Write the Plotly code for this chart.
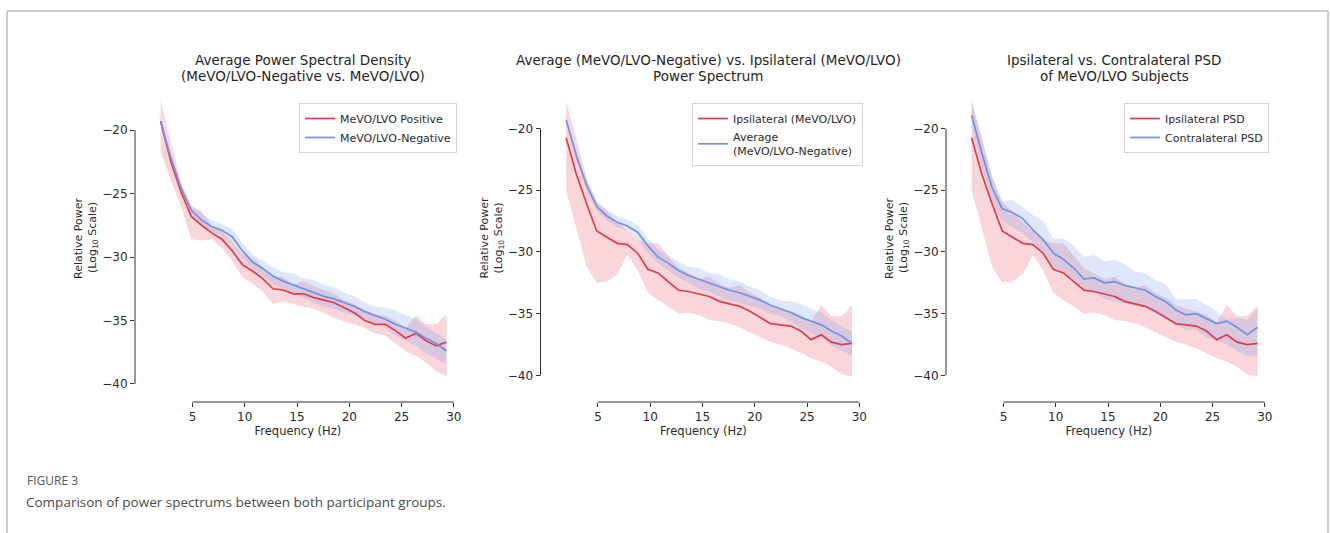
import plotly.graph_objects as go

# ---------------- data ----------------
freqs = [1.95, 2.93, 3.91, 4.88, 5.86, 6.84, 7.81, 8.79, 9.77, 10.74,
         11.72, 12.70, 13.67, 14.65, 15.63, 16.60, 17.58, 18.55, 19.53, 20.51,
         21.48, 22.46, 23.44, 24.41, 25.39, 26.37, 27.34, 28.32, 29.30]

# Panel 1 - MeVO/LVO Positive (mean, upper, lower)
pos_mean = [-19.3, -22.5, -24.9, -26.8, -27.5, -28.1, -28.6, -29.5, -30.6, -31.1,
            -31.7, -32.5, -32.6, -32.9, -32.9, -33.2, -33.4, -33.6, -34.0, -34.4,
            -35.0, -35.3, -35.3, -35.8, -36.4, -36.0, -36.6, -37.0, -36.7]
pos_up = [-17.7, -21.0, -24.2, -26.0, -26.4, -27.6, -28.0, -28.8, -29.8, -30.0,
          -30.8, -31.5, -31.6, -32.2, -31.9, -32.3, -32.6, -32.9, -33.4, -33.7,
          -34.2, -34.5, -34.6, -35.0, -35.6, -34.6, -35.3, -35.3, -34.5]
pos_lo = [-21.7, -24.0, -26.0, -28.6, -28.7, -28.6, -29.3, -30.3, -31.6, -32.1,
          -32.7, -33.7, -33.5, -33.7, -33.9, -34.1, -34.4, -34.8, -35.1, -35.3,
          -35.6, -36.0, -36.2, -36.8, -37.4, -37.8, -38.3, -39.0, -39.4]

# MeVO/LVO-Negative average (mean, upper, lower)
neg_mean = [-19.3, -22.2, -24.6, -26.3, -27.1, -27.6, -27.9, -28.4, -29.5, -30.4,
            -30.9, -31.5, -31.9, -32.2, -32.5, -32.8, -33.1, -33.3, -33.6, -33.9,
            -34.3, -34.6, -34.9, -35.3, -35.6, -35.9, -36.4, -36.8, -37.4]
neg_up = [-19.0, -21.8, -24.2, -25.9, -26.6, -27.1, -27.4, -27.8, -28.9, -29.8,
          -30.3, -30.8, -31.2, -31.3, -31.7, -31.8, -32.2, -32.4, -32.8, -33.1,
          -33.6, -33.9, -34.0, -34.2, -34.6, -34.9, -35.5, -36.0, -36.5]
neg_lo = [-19.6, -22.6, -25.0, -26.7, -27.5, -28.0, -28.3, -29.0, -30.1, -30.9,
          -31.5, -32.1, -32.5, -33.0, -33.2, -33.6, -33.9, -34.1, -34.4, -34.6,
          -35.0, -35.2, -35.6, -36.2, -36.6, -37.0, -37.6, -38.0, -38.4]

# Ipsilateral (MeVO/LVO) (mean, upper, lower)
ipsi_mean = [-20.75, -23.7, -26.1, -28.3, -28.8, -29.3, -29.4, -30.1, -31.4, -31.7,
             -32.4, -33.1, -33.2, -33.4, -33.6, -34.0, -34.2, -34.4, -34.8, -35.3,
             -35.8, -35.9, -36.0, -36.4, -37.1, -36.7, -37.3, -37.5, -37.4]
ipsi_up = [-17.8, -21.0, -24.0, -26.0, -26.7, -27.6, -28.3, -29.0, -29.3, -29.3,
           -30.3, -31.3, -31.7, -32.2, -32.0, -32.6, -32.9, -32.7, -33.3, -33.7,
           -34.3, -34.6, -34.8, -35.1, -35.7, -34.3, -35.2, -35.2, -34.3]
ipsi_lo = [-25.0, -28.0, -31.2, -32.5, -32.4, -31.8, -30.2, -31.5, -33.3, -33.9,
           -34.4, -35.0, -34.9, -35.1, -35.5, -35.6, -35.8, -36.1, -36.5, -36.9,
           -37.3, -37.5, -37.8, -38.2, -38.6, -38.9, -39.3, -39.9, -40.1]

# Contralateral PSD (mean, upper, lower)
contra_mean = [-18.9, -22.0, -24.8, -26.5, -26.8, -27.3, -28.2, -29.0, -30.1, -30.6,
               -31.3, -32.2, -32.1, -32.5, -32.4, -32.7, -32.9, -33.1, -33.6, -34.0,
               -34.7, -35.1, -35.0, -35.4, -35.8, -35.6, -36.1, -36.7, -36.1]
contra_up = [-17.8, -20.9, -23.8, -25.9, -25.8, -26.4, -27.0, -27.5, -28.9, -28.9,
             -29.5, -30.4, -30.2, -30.8, -30.6, -31.0, -31.6, -31.7, -32.3, -32.6,
             -33.8, -33.8, -33.8, -34.3, -34.8, -35.5, -35.3, -35.5, -34.6]
contra_lo = [-19.8, -23.1, -25.9, -27.5, -28.0, -28.5, -29.2, -30.0, -31.1, -31.8,
             -32.4, -33.2, -33.3, -33.8, -34.0, -34.2, -34.4, -34.5, -35.0, -35.4,
             -35.9, -36.3, -36.3, -36.9, -37.2, -37.5, -38.0, -38.4, -38.4]

x_ticks = [5, 10, 15, 20, 25, 30]
y_ticks = [-20, -25, -30, -35, -40]

title_lines = [["Average Power Spectral Density", "(MeVO/LVO-Negative vs. MeVO/LVO)"],
               ["Average (MeVO/LVO-Negative) vs. Ipsilateral (MeVO/LVO)", "Power Spectrum"],
               ["Ipsilateral vs. Contralateral PSD", "of MeVO/LVO Subjects"]]
x_title = "Frequency (Hz)"
y_title_lines = ["Relative Power", "(Log<sub>10</sub> Scale)"]

panels = [
    [("MeVO/LVO Positive", pos_mean, pos_up, pos_lo, "red"),
     ("MeVO/LVO-Negative", neg_mean, neg_up, neg_lo, "blue")],
    [("Ipsilateral (MeVO/LVO)", ipsi_mean, ipsi_up, ipsi_lo, "red"),
     ("Average<br>(MeVO/LVO-Negative)", neg_mean, neg_up, neg_lo, "blue")],
    [("Ipsilateral PSD", ipsi_mean, ipsi_up, ipsi_lo, "red"),
     ("Contralateral PSD", contra_mean, contra_up, contra_lo, "blue")],
]

# ---------------- style ----------------
W, H = 1330, 533
FONT = "DejaVu Sans"
LINE_COL = {"red": "#DE3D50", "blue": "#6F93E8"}
FILL_COL = {"red": "rgba(236,80,98,0.24)", "blue": "rgba(110,150,235,0.22)"}
AX_COL = "#333333"
TXT_COL = "#2b2b2b"

panel_left_px = [135, 540.5, 946]
panel_w_px = 325.8
top_px, bot_px = 88, 402
x_range = [-0.50, 30.67]
y_ranges = [[-41.42, -16.69], [-42.15, -16.72], [-42.15, -16.72]]
legend_right_px = [457, 863, 1269]
legend_top_px = [103, 103, 103]
title_line_px = [60, 76]
ylab_line_px = [-57, -42]

fig = go.Figure()

for i, series in enumerate(panels):
    ax = "" if i == 0 else str(i + 1)
    xa, ya = "x" + ax, "y" + ax
    leg = "legend" if i == 0 else "legend" + str(i + 1)
    # bands first
    for name, m, up, lo, c in series:
        fig.add_trace(go.Scatter(
            x=freqs + freqs[::-1], y=up + lo[::-1], fill="toself",
            fillcolor=FILL_COL[c], line=dict(width=0), mode="lines",
            hoverinfo="skip", showlegend=False, xaxis=xa, yaxis=ya))
    for name, m, up, lo, c in series:
        fig.add_trace(go.Scatter(
            x=freqs, y=m, mode="lines", name=name,
            line=dict(color=LINE_COL[c], width=1.7),
            xaxis=xa, yaxis=ya, legend=leg))

    x0 = panel_left_px[i] / W
    x1 = (panel_left_px[i] + panel_w_px) / W
    axis_common = dict(showgrid=False, zeroline=False, showline=False,
                       ticks="outside", ticklen=4, tickwidth=1, tickcolor=AX_COL,
                       tickfont=dict(family=FONT, size=12, color=TXT_COL))
    fig.update_layout(**{
        "xaxis" + ax: dict(domain=[x0, x1], range=x_range, tickvals=x_ticks,
                           anchor=ya,
                           title=dict(text=x_title, standoff=3,
                                      font=dict(family=FONT, size=11.5, color=TXT_COL)),
                           **axis_common),
        "yaxis" + ax: dict(domain=[1 - bot_px / H, 1 - top_px / H],
                           range=y_ranges[i], tickvals=y_ticks,
                           anchor=xa, **axis_common),
        leg: dict(x=legend_right_px[i] / W, xanchor="right",
                  y=1 - legend_top_px[i] / H, yanchor="top",
                  bgcolor="rgba(255,255,255,0.85)", bordercolor="#d6d6d6",
                  borderwidth=1, font=dict(family=FONT, size=11, color=TXT_COL),
                  tracegroupgap=0, itemwidth=30),
    })
    # trimmed spines
    fig.add_shape(type="line", xref=xa + " domain", yref=ya,
                  x0=0, x1=0, y0=min(y_ticks), y1=max(y_ticks),
                  line=dict(color=AX_COL, width=1))
    fig.add_shape(type="line", xref=xa, yref=ya + " domain",
                  x0=min(x_ticks), x1=max(x_ticks), y0=0, y1=0,
                  line=dict(color=AX_COL, width=1))
    # title (two lines)
    for txt, ypx in zip(title_lines[i], title_line_px):
        fig.add_annotation(text=txt, xref=xa + " domain", yref="paper",
                           x=0.517, y=1 - ypx / H, xanchor="center", yanchor="middle",
                           showarrow=False,
                           font=dict(family=FONT, size=13.5, color="#1f1f1f"))
    # y label (two rotated lines)
    for txt, xpx in zip(y_title_lines, ylab_line_px):
        fig.add_annotation(text=txt, xref=xa + " domain", yref=ya + " domain",
                           x=xpx / panel_w_px, y=(bot_px - 238) / (bot_px - top_px),
                           xanchor="center", yanchor="middle", textangle=-90,
                           showarrow=False,
                           font=dict(family=FONT, size=11, color=TXT_COL))

# caption
fig.add_annotation(text="FIGURE 3", xref="paper", yref="paper",
                   x=25 / W, y=1 - 480 / H, xanchor="left", yanchor="middle",
                   showarrow=False, font=dict(family="Open Sans", size=12, color="#555555"))
fig.add_annotation(text="Comparison of power spectrums between both participant groups.",
                   xref="paper", yref="paper", x=24 / W, y=1 - 502 / H,
                   xanchor="left", yanchor="middle", showarrow=False,
                   font=dict(family="Open Sans", size=13.5, color="#4a4a4a"))

# page frame
frame = dict(color="#bdbdbd", width=1.5)
fig.add_shape(type="line", xref="paper", yref="paper", x0=7 / W, x1=1328 / W,
              y0=1 - 11 / H, y1=1 - 11 / H, line=frame)
fig.add_shape(type="line", xref="paper", yref="paper", x0=7 / W, x1=7 / W,
              y0=1 - 11 / H, y1=0, line=frame)
fig.add_shape(type="line", xref="paper", yref="paper", x0=1328 / W, x1=1328 / W,
              y0=1 - 11 / H, y1=0, line=frame)

fig.update_layout(width=W, height=H, margin=dict(l=0, r=0, t=0, b=0),
                  paper_bgcolor="white", plot_bgcolor="white",
                  hovermode=False)

fig.write_html("out.html")
